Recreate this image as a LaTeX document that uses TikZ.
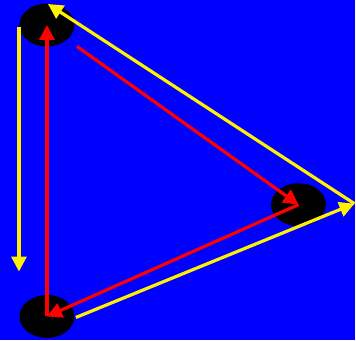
\documentclass[tikz,border=0pt]{standalone}
\usetikzlibrary{arrows.meta,shapes.geometric}
\begin{document}
\begin{tikzpicture}[x=1pt, y=-1pt,
  dot/.style={draw=none, fill=black, ellipse, minimum width=55pt, minimum height=43pt, inner sep=0pt},
  redarrow/.style={-{Triangle[length=15pt,width=15pt]}, red, line width=3.2pt},
  yellowarrow/.style={-{Triangle[length=15pt,width=15pt]}, yellow, line width=3.2pt}]
\fill[blue] (0,0) rectangle (356,341);
\node[dot] (top) at (47,25) {};
\node[dot] (right) at (299,205) {};
\node[dot] (bottom) at (47,317) {};
\coordinate (leftup) at (19,27);
\coordinate (leftdown) at (19,272);
\coordinate (corner) at (355,204);
\coordinate (bottomstart) at (76,318);
\coordinate (topend) at (48,4);
\draw[redarrow, shorten <=12pt] (top) -- (right.center);
\draw[redarrow] (right.center) -- (bottom.center);
\draw[redarrow] (bottom.center) -- (top.center);
\draw[yellowarrow] (leftup) -- (leftdown);
\draw[yellowarrow] (bottomstart) -- (corner);
\draw[yellowarrow] (corner) -- (topend);
\end{tikzpicture}
\end{document}
